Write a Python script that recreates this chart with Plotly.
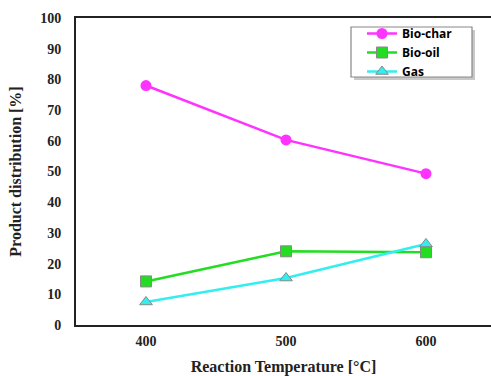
import plotly.graph_objects as go

temps = [400, 500, 600]
bio_char = [78.0, 60.3, 49.3]
bio_oil = [14.2, 24.0, 23.7]
gas = [7.5, 15.3, 26.4]

x_ticks = [400, 500, 600]
y_ticks = [0, 10, 20, 30, 40, 50, 60, 70, 80, 90, 100]

L, T, B, W, H = 76, 18, 51, 491, 376
PW, PH = W - L, H - T - B


def px_x(p):
    return (p - L) / PW


def px_y(p):
    return (H - B - p) / PH


fig = go.Figure()
fig.add_trace(go.Scatter(x=temps, y=bio_char, name="Bio-char", mode="lines+markers",
                         line=dict(color="#FF33FF", width=2.5),
                         marker=dict(symbol="circle", size=11, color="#FF33FF",
                                     line=dict(color="#FF33FF", width=0))))
fig.add_trace(go.Scatter(x=temps, y=bio_oil, name="Bio-oil", mode="lines+markers",
                         line=dict(color="#22DD22", width=2.5),
                         marker=dict(symbol="square", size=11, color="#22DD22",
                                     line=dict(color="#888888", width=1))))
fig.add_trace(go.Scatter(x=temps, y=gas, name="Gas", mode="lines+markers",
                         line=dict(color="#33EEEE", width=2.5),
                         marker=dict(symbol="triangle-up", size=11, color="#33EEEE",
                                     line=dict(color="#888888", width=1))))

# legend shadow and box
fig.add_shape(type="rect", xref="paper", yref="paper",
              x0=px_x(354), x1=px_x(475), y0=px_y(80), y1=px_y(30),
              fillcolor="#C8C8C8", line=dict(width=0), layer="below")
fig.add_shape(type="rect", xref="paper", yref="paper",
              x0=px_x(351), x1=px_x(472), y0=px_y(77), y1=px_y(27),
              fillcolor="white", line=dict(color="#888888", width=1.2), layer="below")

fig.update_layout(
    width=W, height=H,
    margin=dict(l=L, r=0, t=T, b=B),
    paper_bgcolor="white", plot_bgcolor="white",
    showlegend=True,
    legend=dict(x=px_x(362), y=px_y(19), xanchor="left", yanchor="top",
                bgcolor="rgba(0,0,0,0)", borderwidth=0,
                font=dict(family="Open Sans", size=12, color="black", weight="bold"),
                tracegroupgap=0),
    xaxis=dict(range=[350, 350 + PW / 1.4], tickvals=x_ticks,
               showline=True, linecolor="#222222", linewidth=2, mirror=True,
               showgrid=False, zeroline=False, ticks="", ticklen=0, ticklabelstandoff=2,
               tickfont=dict(family="Liberation Serif", size=14, color="#222222", weight="bold"),
               title=dict(text="Reaction Temperature [°C]", standoff=15,
                          font=dict(family="Liberation Serif", size=16, color="#222222", weight="bold"))),
    yaxis=dict(range=[0, 100], tickvals=y_ticks,
               showline=True, linecolor="#222222", linewidth=2, mirror=False,
               showgrid=False, zeroline=False, ticks="", ticklen=0, ticklabelstandoff=10,
               tickfont=dict(family="Liberation Serif", size=14, color="#222222", weight="bold"),
               title=dict(text="Product distribution [%]", standoff=15,
                          font=dict(family="Liberation Serif", size=16, color="#222222", weight="bold"))),
)

fig.write_html("out.html")
